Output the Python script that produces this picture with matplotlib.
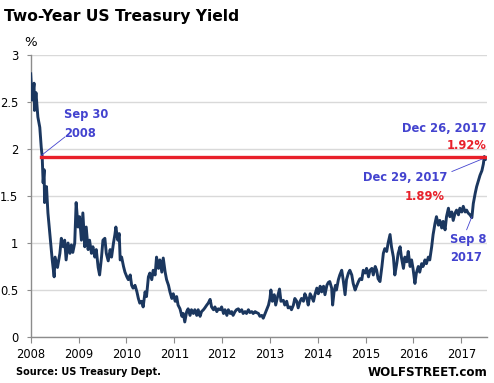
import matplotlib
matplotlib.use("Agg")
import matplotlib.pyplot as plt

# Two-year US Treasury yield (decimal-year position, %)
years = [
    2008.00, 2008.03, 2008.07, 2008.08, 2008.11, 2008.15, 2008.19, 2008.22, 2008.24, 2008.26,
    2008.28, 2008.29, 2008.33, 2008.36, 2008.40, 2008.42, 2008.45, 2008.49, 2008.51, 2008.56,
    2008.61, 2008.64, 2008.68, 2008.71, 2008.74, 2008.78, 2008.82, 2008.85, 2008.88, 2008.92,
    2008.95, 2008.99, 2009.02, 2009.06, 2009.09, 2009.13, 2009.16, 2009.20, 2009.23, 2009.27,
    2009.30, 2009.34, 2009.37, 2009.41, 2009.44, 2009.48, 2009.51, 2009.55, 2009.58, 2009.62,
    2009.66, 2009.69, 2009.73, 2009.76, 2009.78, 2009.82, 2009.85, 2009.87, 2009.90, 2009.94,
    2009.97, 2010.01, 2010.04, 2010.08, 2010.11, 2010.14, 2010.18, 2010.22, 2010.25, 2010.28,
    2010.32, 2010.35, 2010.39, 2010.42, 2010.46, 2010.49, 2010.53, 2010.56, 2010.60, 2010.63,
    2010.67, 2010.70, 2010.74, 2010.77, 2010.81, 2010.84, 2010.88, 2010.91, 2010.95, 2010.98,
    2011.02, 2011.05, 2011.08, 2011.12, 2011.16, 2011.19, 2011.22, 2011.26, 2011.29, 2011.33,
    2011.36, 2011.40, 2011.43, 2011.47, 2011.50, 2011.54, 2011.57, 2011.61, 2011.64, 2011.68,
    2011.71, 2011.75, 2011.78, 2011.82, 2011.85, 2011.89, 2011.92, 2011.96, 2011.99, 2012.03,
    2012.06, 2012.10, 2012.13, 2012.17, 2012.20, 2012.23, 2012.27, 2012.30, 2012.34, 2012.37,
    2012.41, 2012.44, 2012.48, 2012.51, 2012.55, 2012.58, 2012.62, 2012.65, 2012.69, 2012.72,
    2012.76, 2012.79, 2012.83, 2012.86, 2012.90, 2012.93, 2012.97, 2013.00, 2013.02, 2013.05,
    2013.09, 2013.12, 2013.16, 2013.20, 2013.23, 2013.28, 2013.31, 2013.35, 2013.38, 2013.42,
    2013.45, 2013.49, 2013.52, 2013.56, 2013.59, 2013.63, 2013.66, 2013.70, 2013.73, 2013.77,
    2013.80, 2013.84, 2013.87, 2013.91, 2013.94, 2013.98, 2014.01, 2014.05, 2014.08, 2014.12,
    2014.15, 2014.19, 2014.22, 2014.25, 2014.29, 2014.31, 2014.34, 2014.37, 2014.39, 2014.43,
    2014.46, 2014.50, 2014.53, 2014.57, 2014.60, 2014.64, 2014.67, 2014.71, 2014.74, 2014.78,
    2014.81, 2014.85, 2014.88, 2014.92, 2014.95, 2014.99, 2015.02, 2015.06, 2015.09, 2015.13,
    2015.16, 2015.20, 2015.23, 2015.26, 2015.30, 2015.34, 2015.37, 2015.40, 2015.44, 2015.47,
    2015.51, 2015.54, 2015.58, 2015.61, 2015.65, 2015.68, 2015.72, 2015.75, 2015.79, 2015.82,
    2015.86, 2015.89, 2015.93, 2015.96, 2015.99, 2016.03, 2016.06, 2016.10, 2016.13, 2016.17,
    2016.20, 2016.24, 2016.27, 2016.31, 2016.34, 2016.38, 2016.41, 2016.45, 2016.48, 2016.52,
    2016.55, 2016.59, 2016.62, 2016.66, 2016.69, 2016.73, 2016.76, 2016.80, 2016.83, 2016.87,
    2016.90, 2016.94, 2016.97, 2017.01, 2017.04, 2017.08, 2017.11, 2017.14, 2017.18, 2017.22,
    2017.25, 2017.29, 2017.32, 2017.36, 2017.39, 2017.43, 2017.46, 2017.48, 2017.50,
]
yield_pct = [
    2.80, 2.52, 2.70, 2.41, 2.60, 2.34, 2.23, 2.02, 1.92, 1.64,
    1.78, 1.43, 1.60, 1.32, 1.10, 0.98, 0.82, 0.64, 0.85, 0.74,
    0.89, 1.05, 0.96, 1.03, 0.82, 1.00, 0.89, 0.98, 0.90, 1.00,
    1.43, 1.17, 1.28, 1.03, 1.32, 0.96, 1.17, 0.93, 1.03, 0.89,
    0.96, 0.85, 0.93, 0.74, 0.66, 0.85, 1.03, 1.05, 0.89, 0.81,
    0.93, 0.85, 1.00, 1.09, 1.17, 1.03, 1.10, 0.82, 0.85, 0.75,
    0.69, 0.64, 0.61, 0.66, 0.55, 0.52, 0.55, 0.48, 0.41, 0.36,
    0.38, 0.32, 0.48, 0.43, 0.64, 0.68, 0.61, 0.71, 0.66, 0.85,
    0.73, 0.82, 0.69, 0.84, 0.69, 0.61, 0.55, 0.48, 0.41, 0.46,
    0.38, 0.43, 0.34, 0.30, 0.22, 0.25, 0.16, 0.27, 0.30, 0.23,
    0.29, 0.25, 0.29, 0.23, 0.29, 0.22, 0.27, 0.29, 0.31, 0.34,
    0.36, 0.40, 0.32, 0.29, 0.32, 0.27, 0.30, 0.29, 0.32, 0.25,
    0.29, 0.23, 0.29, 0.25, 0.27, 0.23, 0.27, 0.29, 0.30, 0.27,
    0.29, 0.25, 0.27, 0.25, 0.29, 0.26, 0.27, 0.25, 0.27, 0.26,
    0.25, 0.22, 0.23, 0.20, 0.25, 0.29, 0.34, 0.41, 0.50, 0.38,
    0.45, 0.34, 0.43, 0.51, 0.38, 0.39, 0.34, 0.38, 0.31, 0.32,
    0.29, 0.34, 0.41, 0.38, 0.31, 0.38, 0.41, 0.38, 0.46, 0.41,
    0.34, 0.46, 0.43, 0.38, 0.45, 0.52, 0.46, 0.54, 0.48, 0.54,
    0.45, 0.55, 0.58, 0.59, 0.52, 0.34, 0.48, 0.55, 0.50, 0.61,
    0.66, 0.71, 0.61, 0.45, 0.61, 0.68, 0.71, 0.66, 0.57, 0.50,
    0.54, 0.59, 0.62, 0.61, 0.71, 0.68, 0.73, 0.64, 0.71, 0.73,
    0.66, 0.75, 0.71, 0.62, 0.59, 0.75, 0.89, 0.94, 0.91, 1.00,
    1.09, 0.96, 0.85, 0.66, 0.78, 0.89, 0.96, 0.84, 0.73, 0.85,
    0.80, 0.91, 0.75, 0.82, 0.73, 0.57, 0.68, 0.75, 0.69, 0.78,
    0.75, 0.82, 0.78, 0.85, 0.82, 0.96, 1.09, 1.21, 1.28, 1.19,
    1.24, 1.16, 1.23, 1.14, 1.28, 1.37, 1.28, 1.33, 1.24, 1.32,
    1.35, 1.30, 1.37, 1.33, 1.39, 1.33, 1.35, 1.32, 1.30, 1.27,
    1.42, 1.53, 1.60, 1.67, 1.72, 1.77, 1.84, 1.92, 1.89,
]
year_ticks = list(range(2008, 2018))
y_ticks = [0, 0.5, 1, 1.5, 2, 2.5, 3]
y_tick_labels = ["0", "0.5", "1", "1.5", "2", "2.5", "3"]

ref_level = 1.92      # Sep 30 2008 level = Dec 26 2017 level
sep30_2008 = (2008.22, 1.93)
dec_end = (2017.49, 1.905)
sep8_2017 = (2017.22, 1.28)

NAVY = "#1B375F"
BLUE = "#4343CF"
RED = "#E8202A"
GRID = "#D9D9D9"
AXIS = "#8C8C8C"

plt.rcParams['font.family'] = ['DejaVu Sans']

fig = plt.figure(figsize=(4.94, 3.83), dpi=100)
ax = fig.add_axes([30.7 / 494, 1 - 337 / 383, 456 / 494, 282 / 383])

ax.plot(years, yield_pct, color=NAVY, lw=2.1, solid_joinstyle='round', zorder=3)
ax.plot([sep30_2008[0], dec_end[0]], [ref_level, ref_level], color=RED, lw=2.4, zorder=4)

ax.set_xlim(2008, 2017.53)
ax.set_ylim(0, 3)
ax.set_xticks(year_ticks)
ax.set_xticklabels([str(y) for y in year_ticks])
ax.set_yticks(y_ticks)
ax.set_yticklabels(y_tick_labels)
ax.yaxis.grid(True, color=GRID, lw=1.0, zorder=0)
ax.set_axisbelow(True)
for s in ['top', 'right']:
    ax.spines[s].set_visible(False)
for s in ['left', 'bottom']:
    ax.spines[s].set_color(AXIS)
    ax.spines[s].set_linewidth(1.0)
ax.tick_params(axis='x', length=4, color=AXIS, labelsize=8.3, pad=4)
ax.tick_params(axis='y', length=3, color=AXIS, labelsize=8.3, pad=6)

ann = dict(fontsize=8.3, fontweight='bold')
leader = dict(arrowstyle='-', color=BLUE, lw=0.6, shrinkA=0, shrinkB=0)

# Sep 30 2008
ax.text(2008.70, 2.10, "Sep 30\n2008", color=BLUE, ha='left', va='bottom',
        linespacing=1.55, **ann)
ax.annotate("", xy=sep30_2008, xytext=(2008.72, 2.13), arrowprops=leader)

# Dec 26 / Dec 29 2017
ax.text(2017.53, 2.22, "Dec 26, 2017", color=BLUE, ha='right', va='center', **ann)
ax.text(2017.53, 2.04, "1.92%", color=RED, ha='right', va='center', **ann)
ax.text(2016.70, 1.70, "Dec 29, 2017", color=BLUE, ha='right', va='center', **ann)
ax.text(2016.66, 1.49, "1.89%", color=RED, ha='right', va='center', **ann)
ax.annotate("", xy=dec_end, xytext=(2016.80, 1.76), arrowprops=leader)

# Sep 8 2017
ax.text(2016.77, 0.94, "Sep 8\n2017", color=BLUE, ha='left', va='center',
        linespacing=1.55, **ann)
ax.annotate("", xy=sep8_2017, xytext=(2017.11, 1.14), arrowprops=leader)

fig.text(30.5 / 494, 1 - 42.5 / 383, "%", fontsize=9.5, ha='center', va='center')

fig.text(4 / 494, 1 - 21 / 383, "Two-Year US Treasury Yield", fontsize=11.2,
         fontweight='bold', ha='left', va='baseline')
fig.text(16 / 494, 1 - 372 / 383, "Source: US Treasury Dept.", fontsize=7,
         fontweight='bold', ha='left', va='center')
fig.text(488 / 494, 1 - 372 / 383, "WOLFSTREET.com", fontsize=8.6,
         fontweight='bold', ha='right', va='center')

fig.savefig("out.png", dpi=100)
